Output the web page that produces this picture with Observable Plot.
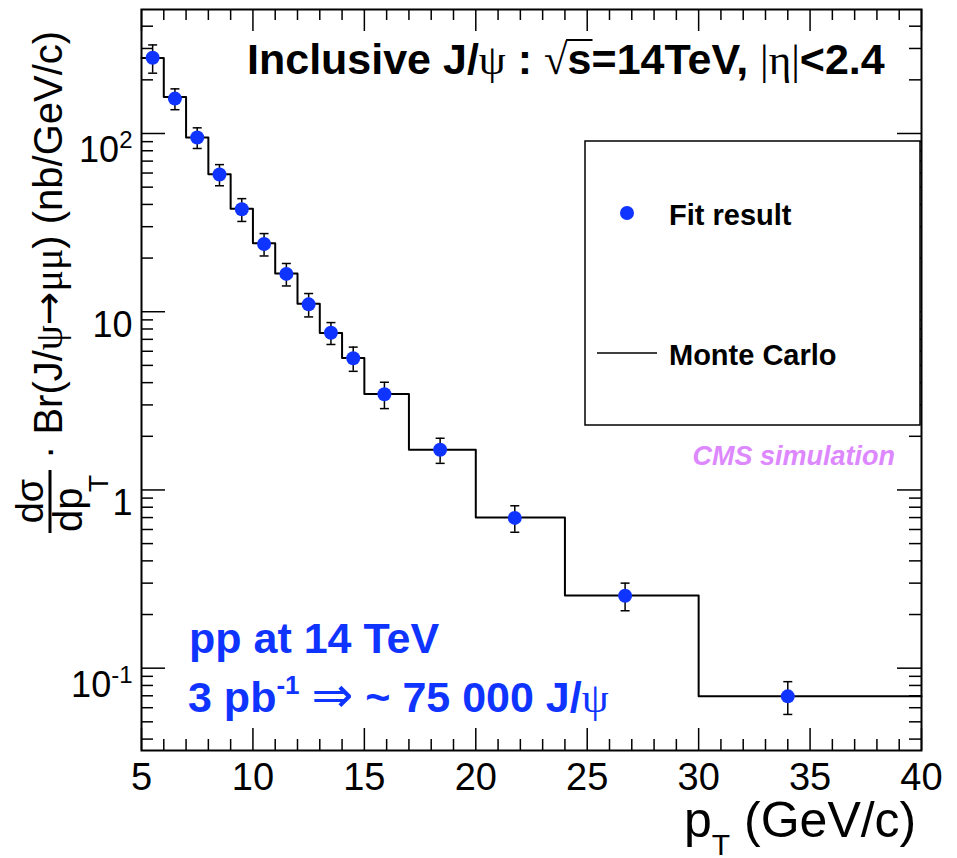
<!DOCTYPE html>
<html>
<head>
<meta charset="utf-8">
<script src="https://cdn.jsdelivr.net/npm/d3@7"></script>
<script src="https://cdn.jsdelivr.net/npm/@observablehq/plot@0.6"></script>
<style>
  html, body { margin: 0; padding: 0; background: white; }
  svg { display: block; }
</style>
</head>
<body>
<div id="chart"></div>
<script>
// ---- data ----
const binEdges = [5, 6, 7, 8, 9, 10, 11, 12, 13, 14, 15, 17, 20, 24, 30, 40];
const mcValues = [265, 160, 95, 59, 37.8, 24.2, 16.4, 11.1, 7.6, 5.5, 3.45, 1.68, 0.70, 0.256, 0.0695];
const fitPt = [5.5, 6.5, 7.5, 8.5, 9.5, 10.5, 11.5, 12.5, 13.5, 14.5, 15.9, 18.4, 21.75, 26.7, 34.0];
const fitValues = [266, 157, 95, 58.9, 37.6, 24.0, 16.3, 11.0, 7.62, 5.48, 3.44, 1.68, 0.697, 0.255, 0.0695];
const fitErrors = [48, 21, 12.6, 8.0, 5.5, 3.45, 2.35, 1.65, 1.07, 0.85, 0.58, 0.27, 0.118, 0.045, 0.0145];
const xMajorTicks = [5, 10, 15, 20, 25, 30, 35, 40];
const xMinorTicks = d3.range(5, 41, 1).filter(v => v % 5 !== 0);
const yMajorTicks = [0.1, 1, 10, 100];
const yTickLabels = ["10^-1", "1", "10", "10^2"];
const yMinorTicks = [0.04,0.05,0.06,0.07,0.08,0.09, 0.2,0.3,0.4,0.5,0.6,0.7,0.8,0.9, 2,3,4,5,6,7,8,9, 20,30,40,50,60,70,80,90, 200,300,400];

const blue = "#1034ff";
const sans = "'Liberation Sans', Arial, Helvetica, sans-serif";
const serif = "'Liberation Serif', 'DejaVu Serif', serif";

const fit = fitPt.map((x, i) => ({x, y: fitValues[i], e: fitErrors[i]}));
const hist = binEdges.map((x, i) => ({x, y: mcValues[Math.min(i, mcValues.length - 1)]}));

const W = 957, H = 858, mL = 141, mR = 36, mT = 9, mB = 108;
const pw = W - mL - mR, ph = H - mT - mB;

const cap = { draw(ctx) { ctx.moveTo(-4.5, 0); ctx.lineTo(4.5, 0); } };

const chart = Plot.plot({
  width: W, height: H,
  marginLeft: mL, marginRight: mR, marginTop: mT, marginBottom: mB,
  style: { fontFamily: sans, background: "white", color: "black" },
  x: { domain: [5, 40] },
  y: { type: "log", domain: [0.03452, 496.3] },
  marks: [
    Plot.ruleX(xMajorTicks, { x: d => d, insetTop: ph - 22, stroke: "black", strokeWidth: 1.5 }),
    Plot.ruleX(xMajorTicks, { x: d => d, insetBottom: ph - 22, stroke: "black", strokeWidth: 1.5 }),
    Plot.ruleX(xMinorTicks, { x: d => d, insetTop: ph - 11, stroke: "black", strokeWidth: 1.5 }),
    Plot.ruleX(xMinorTicks, { x: d => d, insetBottom: ph - 11, stroke: "black", strokeWidth: 1.5 }),
    Plot.ruleY(yMajorTicks, { y: d => d, insetRight: pw - 24, stroke: "black", strokeWidth: 1.5 }),
    Plot.ruleY(yMajorTicks, { y: d => d, insetLeft: pw - 24, stroke: "black", strokeWidth: 1.5 }),
    Plot.ruleY(yMinorTicks, { y: d => d, insetRight: pw - 12, stroke: "black", strokeWidth: 1.5 }),
    Plot.ruleY(yMinorTicks, { y: d => d, insetLeft: pw - 12, stroke: "black", strokeWidth: 1.5 }),
    Plot.frame({ stroke: "black", strokeWidth: 2 }),
    Plot.line(hist, { x: "x", y: "y", curve: "step-after", stroke: "black", strokeWidth: 2 }),
    Plot.ruleX(fit, { x: "x", y1: d => d.y - d.e, y2: d => d.y + d.e, stroke: "black", strokeWidth: 1.5 }),
    Plot.dot(fit, { x: "x", y: d => d.y + d.e, symbol: cap, stroke: "black", strokeWidth: 1.5 }),
    Plot.dot(fit, { x: "x", y: d => d.y - d.e, symbol: cap, stroke: "black", strokeWidth: 1.5 }),
    Plot.dot(fit, { x: "x", y: "y", r: 7, fill: blue, stroke: "none" }),
    Plot.axisX(xMajorTicks, { anchor: "bottom", tickSize: 0, tickPadding: 13, fontSize: 38, label: null, tickFormat: d => String(d) }),
    Plot.axisY(yMajorTicks, { anchor: "left", tickSize: 0, tickPadding: 9, fontSize: 36, label: null,
      tickFormat: d => yTickLabels[yMajorTicks.indexOf(d)] })
  ]
});

document.getElementById("chart").appendChild(chart);
const svg = d3.select(chart);

// superscripts in y tick labels
svg.selectAll('g[aria-label="y-axis tick label"] text').each(function() {
  const t = d3.select(this);
  const s = t.text();
  if (s.includes("^")) {
    const [base, sup] = s.split("^");
    t.text(base).attr("dy", 17);
    t.append("tspan").attr("dy", -14).attr("font-size", 24).text(sup);
  } else {
    t.attr("dy", 14);
  }
});

const ann = svg.append("g").attr("text-anchor", "start").attr("font-family", sans).attr("fill", "black");

// title
const title = ann.append("text").attr("x", 247).attr("y", 74)
  .attr("font-weight", "bold").attr("font-size", 43);
title.append("tspan").text("Inclusive J/");
title.append("tspan").attr("font-family", serif).attr("font-weight", "normal").text("ψ");
title.append("tspan").text(" : ");
title.append("tspan").attr("font-family", serif).attr("font-weight", "normal").text("√");
title.append("tspan").text("s");
title.append("tspan").text("=14TeV, ");
title.append("tspan").attr("font-family", serif).attr("font-weight", "normal").text("|η|");
title.append("tspan").text("<2.4");
{
  const n = title.node();
  const iRad = "Inclusive J/ψ : ".length;
  const x1 = n.getEndPositionOfChar(iRad).x - 1.5;
  const x2 = n.getEndPositionOfChar(iRad + 1).x + 1;
  ann.append("line").attr("x1", x1).attr("x2", x2).attr("y1", 40).attr("y2", 40)
    .attr("stroke", "black").attr("stroke-width", 2);
}

// legend
ann.append("rect").attr("x", 585).attr("y", 141).attr("width", 335).attr("height", 284)
  .attr("fill", "white").attr("stroke", "black").attr("stroke-width", 1.5);
ann.append("circle").attr("cx", 627).attr("cy", 213).attr("r", 7).attr("fill", blue);
ann.append("text").attr("x", 669).attr("y", 225).attr("font-weight", "bold")
  .attr("font-size", 29).text("Fit result");
ann.append("line").attr("x1", 597).attr("x2", 657).attr("y1", 353).attr("y2", 353)
  .attr("stroke", "black").attr("stroke-width", 1.5);
ann.append("text").attr("x", 669).attr("y", 365).attr("font-weight", "bold")
  .attr("font-size", 29).text("Monte Carlo");

// CMS simulation
ann.append("text").attr("x", 895).attr("y", 465).attr("text-anchor", "end")
  .attr("font-weight", "bold").attr("font-style", "italic")
  .attr("font-size", 27).attr("fill", "#dd88ff").text("CMS simulation");

// blue annotations
ann.append("text").attr("x", 189).attr("y", 653).attr("font-weight", "bold")
  .attr("font-size", 43).attr("fill", blue).text("pp at 14 TeV");
const t2 = ann.append("text").attr("x", 188).attr("y", 712).attr("font-weight", "bold")
  .attr("font-size", 43).attr("fill", blue);
t2.append("tspan").text("3 pb");
t2.append("tspan").attr("font-size", 26).attr("dy", -18).text("-1");
t2.append("tspan").attr("dy", 18).text(" ");
t2.append("tspan").attr("font-family", "'DejaVu Sans', sans-serif").attr("font-weight", "normal")
  .attr("font-size", 50).text("⇒");
t2.append("tspan").text(" ~ 75 000 J/");
t2.append("tspan").attr("font-family", serif).attr("font-weight", "normal").text("ψ");

// x axis title
const xl = ann.append("text").attr("x", 684).attr("y", 837).attr("font-size", 50);
xl.append("tspan").text("p");
xl.append("tspan").attr("font-size", 30).attr("dy", 18).text("T");
xl.append("tspan").attr("dy", -18).text(" (GeV/c)");

// y axis title (rotated)
const yl = ann.append("g").attr("transform", "translate(62,533) rotate(-90)");
yl.append("line").attr("x1", 0).attr("x2", 63).attr("y1", -12).attr("y2", -12)
  .attr("stroke", "black").attr("stroke-width", 3);
yl.append("text").attr("x", 32).attr("y", -19).attr("text-anchor", "middle").attr("font-size", 38).text("dσ");
yl.append("text").attr("x", 1).attr("y", 20).attr("font-size", 40).text("dp");
yl.append("text").attr("x", 41).attr("y", 46).attr("font-size", 28).text("T");
const ym = yl.append("text").attr("x", 74).attr("y", 0).attr("font-size", 40);
ym.append("tspan").text("· Br(J/");
ym.append("tspan").attr("font-family", serif).text("ψ");
ym.append("tspan").attr("font-family", "'DejaVu Sans', sans-serif").text("→");
ym.append("tspan").attr("font-family", serif).text("μμ");
ym.append("tspan").text(") (nb/GeV/c)");
</script>
</body>
</html>
